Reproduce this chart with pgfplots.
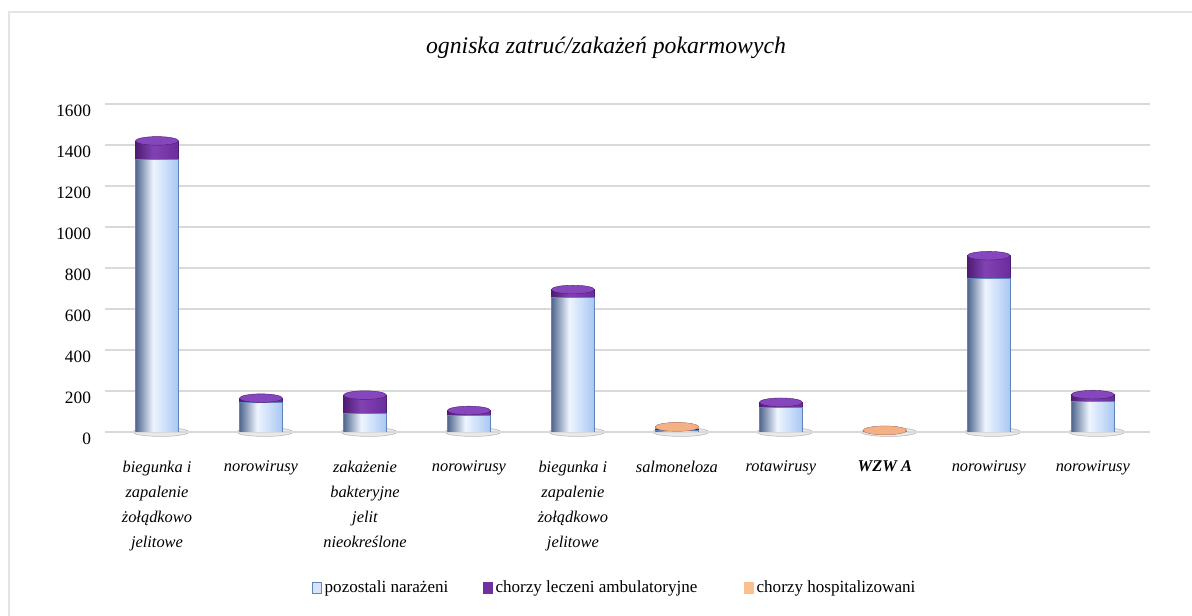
\documentclass[border=0pt]{standalone}
\usepackage{pgfplots}
\usepackage{pgfplotstable}
\pgfplotsset{compat=1.18}
\usepackage{fontspec}
\setmainfont{Liberation Serif}
\definecolor{bL}{HTML}{50668E}
\definecolor{bM}{HTML}{EEF5FF}
\definecolor{bR}{HTML}{A9C6F2}
\definecolor{bEdge}{HTML}{5F85BD}
\definecolor{bLeg}{HTML}{D6E4FA}
\definecolor{pL}{HTML}{4E1C72}
\definecolor{pM}{HTML}{8242B4}
\definecolor{pR}{HTML}{6B2C9C}
\definecolor{pCap}{HTML}{8646BD}
\definecolor{pLeg}{HTML}{7030A0}
\definecolor{oL}{HTML}{E0A070}
\definecolor{oM}{HTML}{FBCBA4}
\definecolor{oR}{HTML}{F4B183}
\definecolor{oCap}{HTML}{F4B183}
\definecolor{oLeg}{HTML}{FAC090}
\definecolor{gridc}{HTML}{D9D9D9}

% periodic horizontal shadings: one gradient per bar slot (path bbox -> 25bp..75bp)
\pgfdeclarehorizontalshading{barB}{100bp}{%
color(0bp)=(bL); color(25.000bp)=(bL); color(25.90bp)=(bM); color(27.196bp)=(bR);
color(30.312bp)=(bL); color(31.21bp)=(bM); color(32.508bp)=(bR);
color(35.623bp)=(bL); color(36.52bp)=(bM); color(37.819bp)=(bR);
color(40.935bp)=(bL); color(41.83bp)=(bM); color(43.131bp)=(bR);
color(46.246bp)=(bL); color(47.15bp)=(bM); color(48.442bp)=(bR);
color(51.558bp)=(bL); color(52.46bp)=(bM); color(53.754bp)=(bR);
color(56.869bp)=(bL); color(57.77bp)=(bM); color(59.065bp)=(bR);
color(62.181bp)=(bL); color(63.08bp)=(bM); color(64.377bp)=(bR);
color(67.492bp)=(bL); color(68.39bp)=(bM); color(69.688bp)=(bR);
color(72.804bp)=(bL); color(73.70bp)=(bM); color(75.000bp)=(bR); color(100bp)=(bR)}
\pgfdeclarehorizontalshading{barP}{100bp}{%
color(0bp)=(pL); color(25.000bp)=(pL); color(25.90bp)=(pM); color(27.196bp)=(pR);
color(30.312bp)=(pL); color(31.21bp)=(pM); color(32.508bp)=(pR);
color(35.623bp)=(pL); color(36.52bp)=(pM); color(37.819bp)=(pR);
color(40.935bp)=(pL); color(41.83bp)=(pM); color(43.131bp)=(pR);
color(46.246bp)=(pL); color(47.15bp)=(pM); color(48.442bp)=(pR);
color(51.558bp)=(pL); color(52.46bp)=(pM); color(53.754bp)=(pR);
color(56.869bp)=(pL); color(57.77bp)=(pM); color(59.065bp)=(pR);
color(62.181bp)=(pL); color(63.08bp)=(pM); color(64.377bp)=(pR);
color(67.492bp)=(pL); color(68.39bp)=(pM); color(69.688bp)=(pR);
color(72.804bp)=(pL); color(73.70bp)=(pM); color(75.000bp)=(pR); color(100bp)=(pR)}
\pgfdeclarehorizontalshading{barO}{100bp}{%
color(0bp)=(oL); color(25.000bp)=(oL); color(25.90bp)=(oM); color(27.196bp)=(oR);
color(30.312bp)=(oL); color(31.21bp)=(oM); color(32.508bp)=(oR);
color(35.623bp)=(oL); color(36.52bp)=(oM); color(37.819bp)=(oR);
color(40.935bp)=(oL); color(41.83bp)=(oM); color(43.131bp)=(oR);
color(46.246bp)=(oL); color(47.15bp)=(oM); color(48.442bp)=(oR);
color(51.558bp)=(oL); color(52.46bp)=(oM); color(53.754bp)=(oR);
color(56.869bp)=(oL); color(57.77bp)=(oM); color(59.065bp)=(oR);
color(62.181bp)=(oL); color(63.08bp)=(oM); color(64.377bp)=(oR);
color(67.492bp)=(oL); color(68.39bp)=(oM); color(69.688bp)=(oR);
color(72.804bp)=(oL); color(73.70bp)=(oM); color(75.000bp)=(oR); color(100bp)=(oR)}
% uniform shadings for the legend boxes
\pgfdeclarehorizontalshading{solB}{100bp}{color(0bp)=(bLeg); color(100bp)=(bLeg)}
\pgfdeclarehorizontalshading{solP}{100bp}{color(0bp)=(pLeg); color(100bp)=(pLeg)}
\pgfdeclarehorizontalshading{solO}{100bp}{color(0bp)=(oLeg); color(100bp)=(oLeg)}

\pgfplotstableread{
x b p o
0 1330 90 0
1 145 20 0
2 90 90 0
3 80 25 0
4 655 40 0
5 8 5 12
6 120 25 0
7 1 2 5
8 750 110 0
9 150 32 0
}\datatable
\pgfplotstablecreatecol[expr={\thisrow{b}+\thisrow{p}+\thisrow{o}}]{t}{\datatable}

\pgfplotsset{
  geom/.style={
    at={(78.75pt,138pt)}, anchor=south west, scale only axis,
    width=783.75pt, height=246pt,
    xmin=-0.5, xmax=9.55, ymin=0, ymax=1600,
  }
}

\begin{document}
\begin{tikzpicture}
\begin{scope}[x=0.75pt,y=0.75pt]
\path[use as bounding box] (0,0) rectangle (1192,616);
\draw[gridc!70, line width=1.5pt] (9,0) -- (9,604) -- (1192,604);
\node[font=\fontsize{17.8}{20}\selectfont\itshape] at (606,568) {ogniska zatruć/zakażeń pokarmowych};
\end{scope}
% soft shadows under the bars
\begin{axis}[geom, hide axis, clip=false]
\addplot[only marks, mark=*, mark size=21pt,
  mark options={yscale=0.16, xshift=3pt, fill=black!35, draw=none, opacity=0.25}]
  table[x=x,y expr=0]{\datatable};
\end{axis}
\begin{axis}[geom,
  ybar stacked, bar width=32.25pt,
  axis line style={draw=none}, tick style={draw=none},
  ymajorgrids, grid style={gridc, line width=1.5pt},
  ytick={0,200,...,1600},
  /pgf/number format/assume math mode=true,
  /pgf/number format/1000 sep={},
  yticklabel style={font=\fontsize{13}{15}\selectfont, yshift=-5pt, xshift=-7pt},
  xtick={0,...,9},
  xticklabels={{biegunka i\\zapalenie\\żołądkowo\\jelitowe},norowirusy,{zakażenie\\bakteryjne\\jelit\\nieokreślone},norowirusy,{biegunka i\\zapalenie\\żołądkowo\\jelitowe},salmoneloza,rotawirusy,{\bfseries WZW A},norowirusy,norowirusy},
  xticklabel style={font=\fontsize{12.3}{18.75}\selectfont\itshape, align=center, anchor=north, yshift=-18pt},
  legend style={at={(0.488,-0.4756)}, anchor=center, legend columns=3, draw=none,
    font=\fontsize{12.8}{14}\selectfont,
    /tikz/column 2/.style={column sep=24pt},
    /tikz/column 4/.style={column sep=33pt}},
]
\addplot[shade, shading=barB, draw=bEdge, line width=0.6pt,
  legend image code/.code={\draw[draw=bEdge, shading=solB, line width=0.6pt] (0pt,-4pt) rectangle (7pt,4pt);}]
  table[x=x,y=b]{\datatable};
\addlegendentry{pozostali narażeni}
\addplot[shade, shading=barP, draw=pL, line width=0.4pt,
  legend image code/.code={\draw[draw=pLeg, shading=solP] (0pt,-4pt) rectangle (7pt,4pt);}]
  table[x=x,y=p]{\datatable};
\addlegendentry{chorzy leczeni ambulatoryjne}
\addplot[shade, shading=barO, draw=oL, line width=0.4pt,
  legend image code/.code={\draw[draw=oLeg, shading=solO] (0pt,-4pt) rectangle (7pt,4pt);}]
  table[x=x,y=o]{\datatable};
\addlegendentry{chorzy hospitalizowani}
\end{axis}
\begin{axis}[geom, hide axis, clip=false]
\addplot[only marks, mark=*, mark size=16.125pt,
  mark options={yscale=0.2, fill=pCap, draw=pL, line width=0.3pt}]
  table[x=x,y=t]{\datatable};
\addplot[only marks, mark=*, mark size=16.125pt, unbounded coords=discard,
  mark options={yscale=0.2, fill=oCap, draw=oL, line width=0.3pt}]
  table[x=x,y expr={\thisrow{o}>0 ? \thisrow{t} : nan}]{\datatable};
\end{axis}
\end{tikzpicture}
\end{document}
